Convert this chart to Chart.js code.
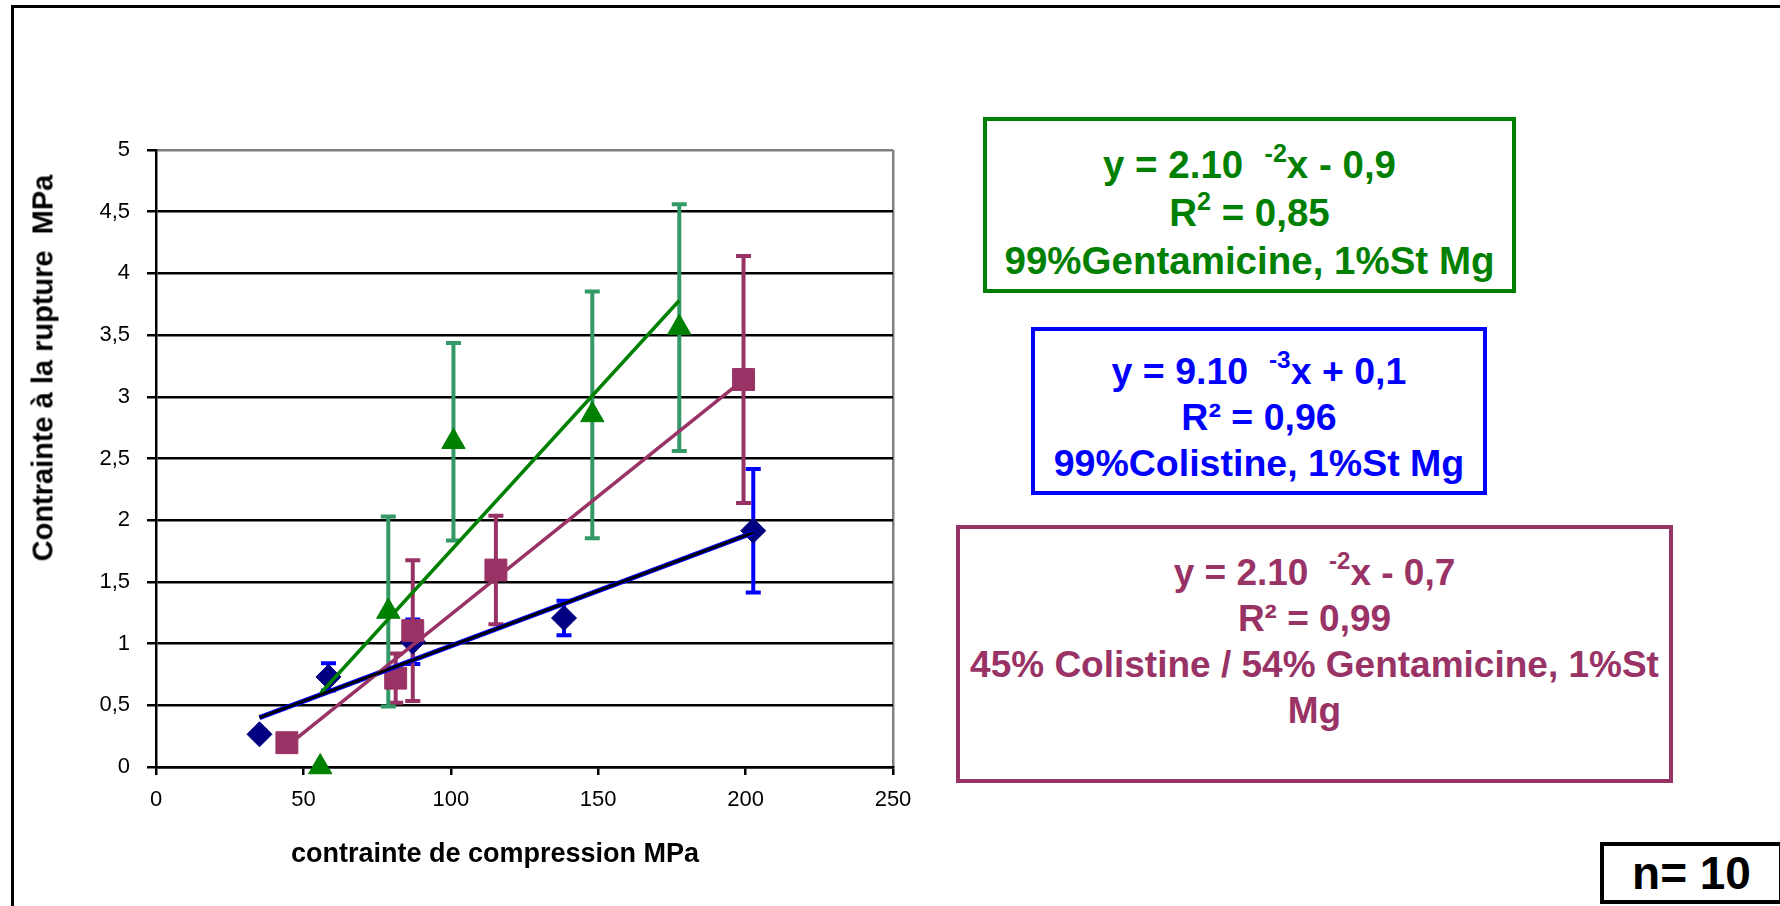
<!DOCTYPE html>
<html>
<head>
<meta charset="utf-8">
<script src="https://cdn.jsdelivr.net/npm/chart.js@4.4.1/dist/chart.umd.min.js"></script>
<style>
    body { margin: 0; background: #fff; overflow: hidden; font-family: 'Liberation Sans', Arial, sans-serif; }
    #wrap { position: absolute; left: 0; top: 0; width: 1780px; height: 906px; }
    .frame { position: absolute; left: 11px; top: 5px; width: 1820px; height: 960px; border: 3px solid #000; }
    .box { position: absolute; box-sizing: border-box; border: 4px solid; background: #fff; text-align: center;
           font-weight: bold; font-size: 37px; white-space: nowrap; }
    .box sup { font-size: 0.65em; vertical-align: 0.65em; line-height: 0; }
    .title { position: absolute; font-weight: bold; font-size: 27px; white-space: nowrap; color: #000; }
</style>
</head>
<body>
<div class="frame"></div>
<div id="wrap"><canvas id="ruptureChart"></canvas></div>

<div class="title" style="left:43px; top:368px; font-size:29px; transform: translate(-50%, -50%) rotate(-90deg);">Contrainte à la rupture&nbsp; MPa</div>
<div class="title" style="left:495px; top:853px; transform: translate(-50%, -50%);">contrainte de compression MPa</div>

<div class="box" style="left:983px; top:117px; width:533px; height:176px; border-color:#008000; color:#008000; font-size:38.5px; line-height:48px; padding-top:20px;">
    y = 2.10 &nbsp;<sup>-2</sup>x - 0,9<br>R<sup>2</sup> = 0,85<br>99%Gentamicine, 1%St Mg
</div>
<div class="box" style="left:1031px; top:327px; width:456px; height:168px; border-color:#0000FF; color:#0000FF; font-size:37.5px; line-height:46px; padding-top:17px;">
    y = 9.10 &nbsp;<sup>-3</sup>x + 0,1<br>R² = 0,96<br>99%Colistine, 1%St Mg
</div>
<div class="box" style="left:956px; top:525px; width:717px; height:258px; border-color:#993366; color:#993366; line-height:46px; padding-top:21px;">
    y = 2.10 &nbsp;<sup>-2</sup>x - 0,7<br>R² = 0,99<br>45% Colistine / 54% Gentamicine, 1%St<br>Mg
</div>
<div class="box" style="left:1600px; top:842px; width:183px; height:62px; border-color:#000; color:#000; font-size:46px; line-height:54px;">
    n= 10
</div>

<script>
// 99% Colistine (diamonds)
const colX = [35.1, 58.5, 87.1, 138.4, 202.6];
const colY = [0.265, 0.73, 1.015, 1.207, 1.915];
const colErr = [0.03, 0.11, 0.18, 0.14, 0.5];
const colTrendX = [35.1, 202.6];
const colTrendY = [0.40, 1.90];

// 45% Colistine / 54% Gentamicine (squares)
const mixX = [44.4, 81.3, 87.1, 115.3, 199.3];
const mixY = [0.197, 0.72, 1.105, 1.596, 3.14];
const mixErr = [0, 0.2, 0.57, 0.44, 1.0];
const mixTrendX = [44.4, 199.3];
const mixTrendY = [0.17, 3.14];

// 99% Gentamicine (triangles)
const genX = [55.7, 78.8, 100.9, 148.0, 177.5];
const genY = [0, 1.26, 2.636, 2.853, 3.56];
const genErr = [0, 0.77, 0.8, 1.0, 1.0];
const genTrendX = [55.9, 177.5];
const genTrendY = [0.60, 3.78];

const xTicks = [0, 50, 100, 150, 200, 250];
const yTicks = [0, 0.5, 1, 1.5, 2, 2.5, 3, 3.5, 4, 4.5, 5];

function pts(xs, ys) {
    return xs.map((x, i) => ({ x: x, y: ys[i] }));
}

const errorSeries = [
    { x: colX, y: colY, err: colErr, color: '#0000FF' },
    { x: mixX, y: mixY, err: mixErr, color: '#993366' },
    { x: genX, y: genY, err: genErr, color: '#339966' }
];

// vertical error bars with caps, drawn under the markers
const errorBars = {
    id: 'errorBars',
    beforeDatasetsDraw(chart) {
        const ctx = chart.ctx;
        const xs = chart.scales.x, ys = chart.scales.y;
        ctx.save();
        errorSeries.forEach(s => {
            ctx.strokeStyle = s.color;
            ctx.lineWidth = 4;
            s.x.forEach((xv, i) => {
                if (!s.err[i]) return;
                const px = xs.getPixelForValue(xv);
                const top = ys.getPixelForValue(s.y[i] + s.err[i]);
                const bot = ys.getPixelForValue(s.y[i] - s.err[i]);
                ctx.beginPath();
                ctx.moveTo(px, top); ctx.lineTo(px, bot);
                ctx.moveTo(px - 7.5, top); ctx.lineTo(px + 7.5, top);
                ctx.moveTo(px - 7.5, bot); ctx.lineTo(px + 7.5, bot);
                ctx.stroke();
            });
        });
        ctx.restore();
    }
};

const tickFont = { family: "'Liberation Sans', Arial, sans-serif", size: 22 };

new Chart(document.getElementById('ruptureChart'), {
    type: 'scatter',
    data: {
        datasets: [
            {
                data: pts(colTrendX, colTrendY), type: 'line', showLine: true,
                borderColor: '#000000', borderWidth: 3, pointRadius: 0, order: 1
            },
            {
                data: pts(colTrendX, colTrendY), type: 'line', showLine: true,
                borderColor: '#0000FF', borderWidth: 5, pointRadius: 0, order: 2
            },
            {
                data: pts(mixTrendX, mixTrendY), type: 'line', showLine: true,
                borderColor: '#993366', borderWidth: 3.5, pointRadius: 0, order: 1
            },
            {
                data: pts(genTrendX, genTrendY), type: 'line', showLine: true,
                borderColor: '#008000', borderWidth: 3.5, pointRadius: 0, order: 1
            },
            {
                data: pts(genX, genY), pointStyle: 'triangle', pointRadius: 13.5,
                backgroundColor: '#008000', borderColor: '#008000', borderWidth: 1, clip: false, order: 3
            },
            {
                data: pts(mixX, mixY), pointStyle: 'rect', pointRadius: 15.5,
                backgroundColor: '#993366', borderColor: '#993366', borderWidth: 1, clip: false, order: 4
            },
            {
                data: pts(colX, colY), pointStyle: 'rectRot', pointRadius: 12.5,
                backgroundColor: '#000080', borderColor: '#000080', borderWidth: 1, clip: false, order: 5
            }
        ]
    },
    options: {
        responsive: true,
        maintainAspectRatio: false,
        animation: false,
        layout: {
            padding: { left: 60, top: 150, right: 887, bottom: 79 }
        },
        scales: {
            x: {
                type: 'linear',
                min: 0,
                max: 250,
                afterFit: function (scale) { scale.height = 60; },
                afterBuildTicks: function (scale) { scale.ticks = xTicks.map(v => ({ value: v })); },
                ticks: { font: tickFont, color: '#000', padding: 12 },
                grid: {
                    color: ctx => ctx.tick && ctx.tick.value === 250 ? '#808080' : 'rgba(0,0,0,0)',
                    tickColor: '#000',
                    tickLength: 8,
                    lineWidth: 2.5
                },
                border: { color: '#000', width: 2.5 }
            },
            y: {
                min: 0,
                max: 5,
                afterFit: function (scale) { scale.width = 96; },
                afterBuildTicks: function (scale) { scale.ticks = yTicks.map(v => ({ value: v })); },
                ticks: {
                    font: tickFont,
                    color: '#000',
                    padding: 17,
                    callback: v => String(v).replace('.', ',')
                },
                grid: {
                    color: ctx => ctx.tick && ctx.tick.value === 5 ? '#808080' : '#000',
                    tickColor: '#000',
                    tickLength: 9,
                    lineWidth: 2.5
                },
                border: { color: '#000', width: 2.5 }
            }
        },
        plugins: {
            legend: { display: false },
            tooltip: { enabled: false }
        }
    },
    plugins: [errorBars]
});
</script>
</body>
</html>
